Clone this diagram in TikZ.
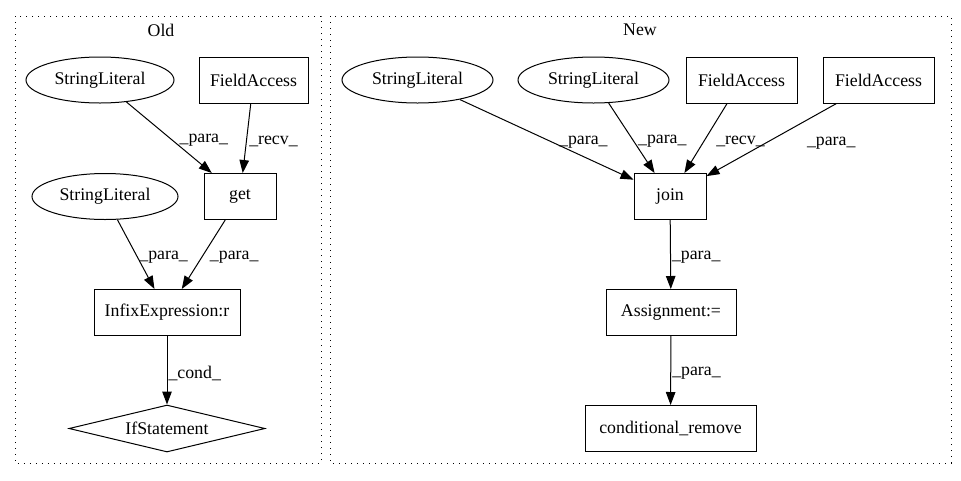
\documentclass[tikz,border=0pt]{standalone}
\usepackage{fontspec}
\setmainfont{Liberation Serif}
\usetikzlibrary{arrows.meta,shapes.geometric}

\begin{document}
\begin{tikzpicture}[
  x=1pt, y=-1pt,
  line width=1pt,
  font=\fontsize{17.8}{20}\selectfont,
  every node/.style={inner sep=0pt},
  lit/.style={draw, ellipse, minimum width=148pt, minimum height=46pt},
  box/.style={draw, minimum height=46pt},
  cond/.style={draw, diamond, aspect=4, minimum width=196pt, minimum height=47pt},
  cluster/.style={dash pattern=on 1.4pt off 4.6pt},
  arrow/.style={-{Triangle[length=13pt,width=9.5pt]}},
  lbl/.style={right=#1, yshift=-3pt},
  lbl/.default=2pt
]
\useasboundingbox (0,0) rectangle (961,480);

\draw[cluster] (15,16) rectangle (321,463);
\node (old) at (161,30) {Old};
\draw[cluster] (330,16) rectangle (951,463);
\node (new) at (640,30) {New};

\node[lit] (osl1) at (100,80) {StringLiteral};
\node[box, minimum width=109pt] (ofa) at (253.5,80) {FieldAccess};
\node[box, minimum width=72pt] (oget) at (240,196.5) {get};
\node[lit, minimum width=146pt] (osl2) at (105,196.5) {StringLiteral};
\node[box, minimum width=146pt] (oinfix) at (167,312.5) {InfixExpression:r};
\node[cond] (oif) at (167,428.5) {IfStatement};

\node[lit, minimum width=151pt] (nsl1) at (417.5,80) {StringLiteral};
\node[lit, minimum width=151pt] (nsl2) at (593.5,80) {StringLiteral};
\node[box, minimum width=111pt] (nfa1) at (741.5,80) {FieldAccess};
\node[box, minimum width=111pt] (nfa2) at (878.5,80) {FieldAccess};
\node[box, minimum width=72pt] (njoin) at (670,196.5) {join};
\node[box, minimum width=130pt] (nassign) at (671,312.5) {Assignment:=};
\node[box, minimum width=171pt] (nremove) at (670.5,428.5) {conditional\_remove};

\draw[arrow] (osl1) -- node[lbl=10pt] {\_para\_} (oget);
\draw[arrow] (ofa) -- node[lbl] {\_recv\_} (oget);
\draw[arrow] (osl2) -- node[lbl=3pt] {\_para\_} (oinfix);
\draw[arrow] (oget) -- node[lbl=6pt] {\_para\_} (oinfix);
\draw[arrow] (oinfix) -- node[lbl=1pt] {\_cond\_} (oif);

\draw[arrow] (nsl1) -- node[lbl=12pt] {\_para\_} (njoin);
\draw[arrow] (nsl2) -- node[lbl=6pt] {\_para\_} (njoin);
\draw[arrow] (nfa1) -- node[lbl=10pt] {\_recv\_} (njoin);
\draw[arrow] (nfa2) -- node[lbl=35pt] {\_para\_} (njoin);
\draw[arrow] (njoin) -- node[lbl=1pt] {\_para\_} (nassign);
\draw[arrow] (nassign) -- node[lbl=1pt] {\_para\_} (nremove);
\end{tikzpicture}
\end{document}
